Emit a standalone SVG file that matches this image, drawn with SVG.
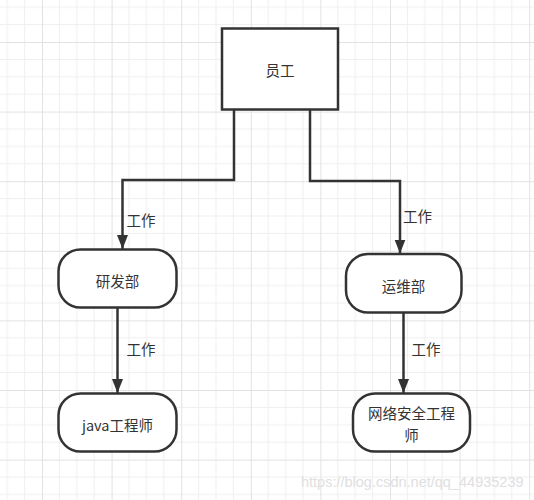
<svg xmlns="http://www.w3.org/2000/svg" width="534" height="500" viewBox="0 0 534 500">
<style>
.node{fill:#ffffff;stroke:#333333;stroke-width:2.5}
.conn{fill:none;stroke:#333333;stroke-width:2.5}
.lbl{font-family:"Noto Sans CJK SC","Liberation Sans",sans-serif;font-size:14.5px;fill:#333333}
.mid{text-anchor:middle}
.wm{font-family:"Liberation Sans",Arial,sans-serif;font-size:14.5px;fill:#e0e0e0}
</style>
<defs>
<pattern id="grid" x="42" y="42" width="69.6" height="69.6" patternUnits="userSpaceOnUse">
<path d="M17.4,0V69.6M34.8,0V69.6M52.2,0V69.6M0,17.4H69.6M0,34.8H69.6M0,52.2H69.6" stroke="#efefef" stroke-width="1" fill="none"/>
<path d="M0.5,0V69.6M0,0.5H69.6" stroke="#e2e2e2" stroke-width="1" fill="none"/>
</pattern>
<marker id="arrow" markerUnits="userSpaceOnUse" markerWidth="14" markerHeight="12" refX="14" refY="6" orient="auto">
<path d="M0,0.5L14,6L0,11.5Z" fill="#333333"/>
</marker>
</defs>
<rect x="0" y="0" width="534" height="500" fill="#ffffff"/>
<rect x="0" y="0" width="534" height="500" fill="url(#grid)"/>
<g id="connectors">
<path class="conn" d="M234,109.5V180H122.5V249" marker-end="url(#arrow)"/>
<path class="conn" d="M310,109.5V181H400V253.5" marker-end="url(#arrow)"/>
<path class="conn" d="M117.5,307.5V393" marker-end="url(#arrow)"/>
<path class="conn" d="M403.5,312.5V393" marker-end="url(#arrow)"/>
<text class="lbl" x="126.5" y="226">工作</text>
<text class="lbl" x="403" y="222">工作</text>
<text class="lbl" x="126.5" y="354.5">工作</text>
<text class="lbl" x="411.5" y="354.5">工作</text>
</g>
<g id="node-yuangong">
<rect class="node" x="222" y="28.5" width="116" height="81"/>
<text class="lbl mid" x="280" y="76">员工</text>
</g>
<g id="node-yanfabu">
<rect class="node" x="58.5" y="249.5" width="118" height="58" rx="22" ry="22"/>
<text class="lbl mid" x="117.5" y="286.5">研发部</text>
</g>
<g id="node-yunweibu">
<rect class="node" x="346" y="254" width="115.5" height="58.5" rx="22" ry="22"/>
<text class="lbl mid" x="403.5" y="291.5">运维部</text>
</g>
<g id="node-java">
<rect class="node" x="58.5" y="393.5" width="118" height="58" rx="22" ry="22"/>
<text class="lbl mid" x="117.5" y="430.5">java工程师</text>
</g>
<g id="node-security">
<rect class="node" x="353" y="393.5" width="117" height="58" rx="22" ry="22"/>
<text class="lbl mid" x="411.5" y="419"><tspan x="411.5" y="419">网络安全工程</tspan><tspan x="411.5" y="440.5">师</tspan></text>
</g>
<text class="wm" x="301" y="487">https://blog.csdn.net/qq_44935239</text>
</svg>
